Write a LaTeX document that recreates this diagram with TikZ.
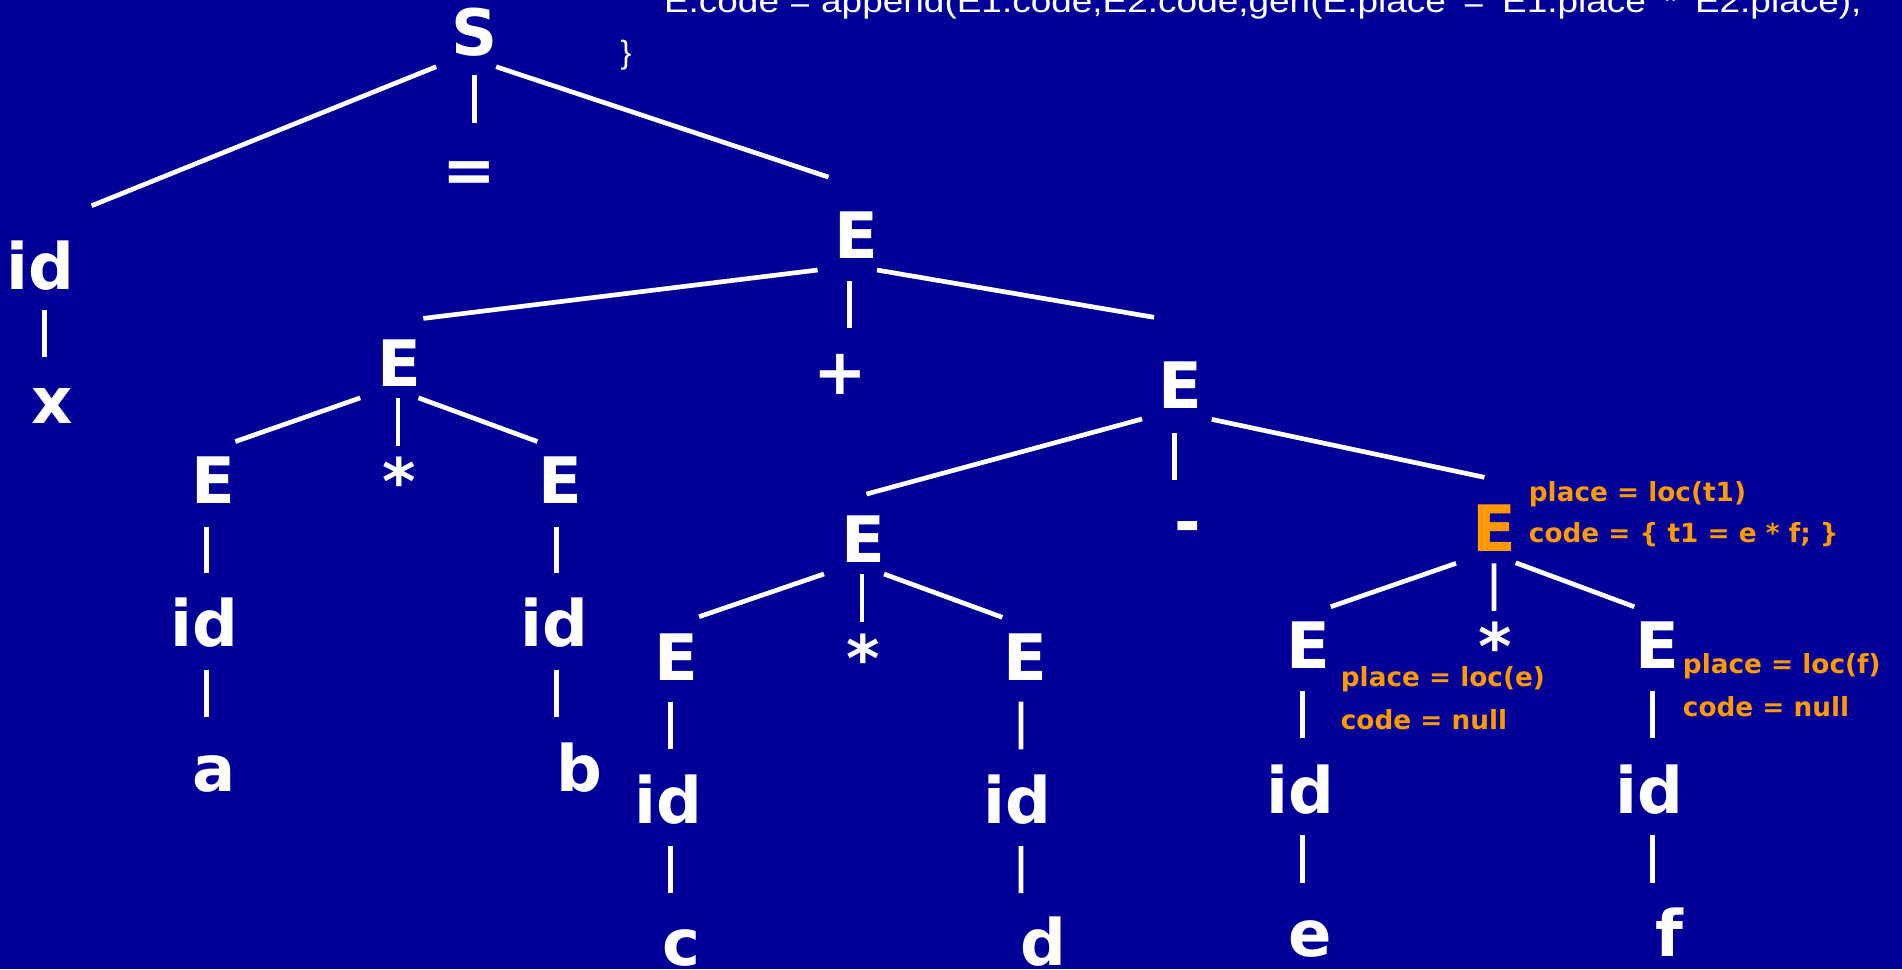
\documentclass[tikz,border=0pt]{standalone}
\usepackage{fontspec}
\setmainfont{DejaVu Sans}
\newfontfamily\topfont{Liberation Sans}
\usetikzlibrary{calc}
\definecolor{bgblue}{RGB}{0,0,153}
\definecolor{orng}{RGB}{255,153,0}
\tikzset{
  sym/.style={text=white, font=\bfseries\fontsize{26.4}{30}\selectfont, inner sep=0pt, anchor=base},
  osym/.style={sym, text=orng},
  note/.style={text=orng, font=\bfseries\fontsize{10.85}{13}\selectfont, inner sep=0pt, anchor=base west},
  edge/.style={draw=white, line width=1.93pt},
  codetext/.style={text=white, inner sep=0pt, font=\topfont\fontsize{13.25}{15}\selectfont},
}
\newcommand{\edgeln}[4]{\draw[edge] ($(#1.base)+(#2)$) -- ($(#3.base)+(#4)$);}
\newcommand{\astsym}{\raisebox{0pt}[\height][-0.2em]{*}}
\begin{document}
\begin{tikzpicture}[x=0.5pt,y=-0.5pt]
\fill[bgblue] (0,0) rectangle (1568,799);
\useasboundingbox (0,0) rectangle (1568,799);

% top code text (cut by the top edge)
\node[codetext, anchor=base west] (code) at (547,10.2)
  {\scalebox{1.15}[1]{E.code = append(E1.code,E2.code,gen(E.place '=' E1.place '*' E2.place);}};
\node[codetext, anchor=base] (brace) at (516,52) {\}};

% tree symbols
\node[sym] (S) at (391.5,45.4) {S};
\node[sym] (eq) at (387,159) {=};
\node[sym] (idx) at (33,238.5) {id};
\node[sym] (nx) at (43.2,349) {x};
\node[sym] (Ea) at (706,212.8) {E};
\node[sym] (plus) at (693,325) {+};
\node[sym] (Eb) at (329,319) {E};
\node[sym] (Ec) at (175.5,415) {E};
\node[sym] (st1) at (329.5,416) {\astsym};
\node[sym] (Ed) at (462,415) {E};
\node[sym] (ida) at (168.5,533) {id};
\node[sym] (na) at (176.5,652.5) {a};
\node[sym] (idb) at (457,533) {id};
\node[sym] (nb) at (478,652.5) {b};
\node[sym] (Ee) at (973,336.6) {E};
\node[sym] (minus) at (979,448.5) {-};
\node[sym] (Ef) at (711.4,464) {E};
\node[sym] (Eg) at (558,560.6) {E};
\node[sym] (st2) at (712,562) {\astsym};
\node[sym] (Eh) at (845,560.6) {E};
\node[sym] (idc) at (551,678.5) {id};
\node[sym] (nc) at (561.5,796) {c};
\node[sym] (idd) at (839,678.5) {id};
\node[sym] (nd) at (860,796) {d};
\node[osym] (Ei) at (1232,455) {E};
\node[sym] (Ej) at (1079,551.5) {E};
\node[sym] (st3) at (1232.7,551.8) {\astsym};
\node[sym] (Ek) at (1366,551.5) {E};
\node[sym] (ide) at (1072,670.5) {id};
\node[sym] (ne) at (1080,788.5) {e};
\node[sym] (idf) at (1360,670.5) {id};
\node[sym] (nf) at (1376.5,788.7) {f};

% attribute notes
\node[note] (t1a) at (1260,413.6) {place = loc(t1)};
\node[note] (t1b) at (1260,447.4) {code = \{ t1 = e * f; \}};
\node[note] (ea) at (1105,566.1) {place = loc(e)};
\node[note] (eb) at (1105,601.3) {code = null};
\node[note] (fa) at (1387,555) {place = loc(f)};
\node[note] (fb) at (1387,590.8) {code = null};

% connectors
\edgeln{S}{-31.9,9.6}{idx}{42.5,-68.9}
\edgeln{S}{-0.5,16.4}{eq}{4,-58}
\edgeln{S}{17.5,9.6}{Ea}{-23,-66.8}
\edgeln{Ea}{-32,9.8}{Eb}{20,-56.5}
\edgeln{Ea}{-5.6,18.9}{plus}{7.4,-54.4}
\edgeln{Ea}{17,9.8}{Ee}{-21.6,-75}
\edgeln{Eb}{-32,9}{Ec}{18.5,-51}
\edgeln{Eb}{-1,9}{st1}{-1.5,-48}
\edgeln{Eb}{16,9}{Ed}{-19,-51}
\edgeln{Ec}{-5.1,19.5}{ida}{1.9,-60.5}
\edgeln{ida}{1.9,19}{na}{-6.1,-61.5}
\edgeln{Ed}{-3,19.5}{idb}{2,-60.5}
\edgeln{idb}{2,19}{nb}{-19,-61.5}
\edgeln{idx}{3.8,17.1}{nx}{-6.4,-54.4}
\edgeln{Ee}{-31.5,8.8}{Ef}{2.9,-56.7}
\edgeln{Ee}{-4.5,20.4}{minus}{-10.5,-52.5}
\edgeln{Ee}{26,9.1}{Ei}{-8.3,-61.5}
\edgeln{Ef}{-32.1,9.2}{Eg}{18.3,-52.2}
\edgeln{Ef}{-0.8,9.2}{st2}{-1.4,-49.5}
\edgeln{Ef}{17.4,9.2}{Eh}{-18.7,-51.7}
\edgeln{Eg}{-5,17.9}{idc}{2,-60.8}
\edgeln{idc}{2,19}{nc}{-8.5,-59.7}
\edgeln{Eh}{-3.3,17.9}{idd}{2.7,-60.8}
\edgeln{idd}{2.7,19}{nd}{-18.3,-59.7}
\edgeln{Ei}{-31.7,9.4}{Ej}{18,-51.3}
\edgeln{Ei}{-0.4,9.4}{st3}{-1.1,-48.3}
\edgeln{Ei}{17.5,8.9}{Ek}{-18.7,-51.3}
\edgeln{Ej}{-5,18.2}{ide}{2,-61.8}
\edgeln{ide}{2,17.9}{ne}{-6,-60.5}
\edgeln{Ek}{-3.5,18.2}{idf}{2.5,-61.8}
\edgeln{idf}{2.5,17.9}{nf}{-14,-60.7}
\end{tikzpicture}
\end{document}
